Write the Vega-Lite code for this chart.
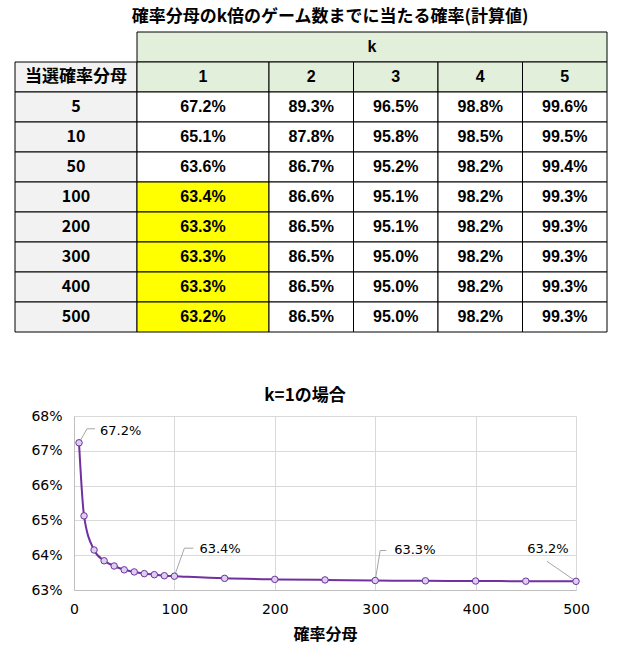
{
  "$schema": "https://vega.github.io/schema/vega-lite/v6.json",
  "padding": {"left": 14, "top": 7, "right": 5, "bottom": 5},
  "config": {
    "view": {"stroke": null},
    "font": "Noto Sans CJK JP",
    "text": {"color": "black"}
  },
  "title": {
    "text": "確率分母のk倍のゲーム数までに当たる確率(計算値)",
    "fontSize": 17,
    "fontWeight": "bold",
    "color": "black",
    "anchor": "middle",
    "dx": 19,
    "offset": 6
  },
  "datasets": {
    "left": [
      {"row": "hdr", "label": "当選確率分母"},
      {"row": "5", "label": "5"},
      {"row": "10", "label": "10"},
      {"row": "50", "label": "50"},
      {"row": "100", "label": "100"},
      {"row": "200", "label": "200"},
      {"row": "300", "label": "300"},
      {"row": "400", "label": "400"},
      {"row": "500", "label": "500"}
    ],
    "ks": [
      {"row": "hdr", "k": 1},
      {"row": "hdr", "k": 2},
      {"row": "hdr", "k": 3},
      {"row": "hdr", "k": 4},
      {"row": "hdr", "k": 5}
    ],
    "cells": [
      {"row": "5", "k": 1, "p": 0.672}, {"row": "5", "k": 2, "p": 0.893}, {"row": "5", "k": 3, "p": 0.965}, {"row": "5", "k": 4, "p": 0.988}, {"row": "5", "k": 5, "p": 0.996},
      {"row": "10", "k": 1, "p": 0.651}, {"row": "10", "k": 2, "p": 0.878}, {"row": "10", "k": 3, "p": 0.958}, {"row": "10", "k": 4, "p": 0.985}, {"row": "10", "k": 5, "p": 0.995},
      {"row": "50", "k": 1, "p": 0.636}, {"row": "50", "k": 2, "p": 0.867}, {"row": "50", "k": 3, "p": 0.952}, {"row": "50", "k": 4, "p": 0.982}, {"row": "50", "k": 5, "p": 0.994},
      {"row": "100", "k": 1, "p": 0.634}, {"row": "100", "k": 2, "p": 0.866}, {"row": "100", "k": 3, "p": 0.951}, {"row": "100", "k": 4, "p": 0.982}, {"row": "100", "k": 5, "p": 0.993},
      {"row": "200", "k": 1, "p": 0.633}, {"row": "200", "k": 2, "p": 0.865}, {"row": "200", "k": 3, "p": 0.951}, {"row": "200", "k": 4, "p": 0.982}, {"row": "200", "k": 5, "p": 0.993},
      {"row": "300", "k": 1, "p": 0.633}, {"row": "300", "k": 2, "p": 0.865}, {"row": "300", "k": 3, "p": 0.950}, {"row": "300", "k": 4, "p": 0.982}, {"row": "300", "k": 5, "p": 0.993},
      {"row": "400", "k": 1, "p": 0.633}, {"row": "400", "k": 2, "p": 0.865}, {"row": "400", "k": 3, "p": 0.950}, {"row": "400", "k": 4, "p": 0.982}, {"row": "400", "k": 5, "p": 0.993},
      {"row": "500", "k": 1, "p": 0.632}, {"row": "500", "k": 2, "p": 0.865}, {"row": "500", "k": 3, "p": 0.950}, {"row": "500", "k": 4, "p": 0.982}, {"row": "500", "k": 5, "p": 0.993}
    ],
    "series": [
      {"n": 5, "p": 0.6723}, {"n": 10, "p": 0.6513}, {"n": 20, "p": 0.6415},
      {"n": 30, "p": 0.6384}, {"n": 40, "p": 0.6369}, {"n": 50, "p": 0.6358},
      {"n": 60, "p": 0.6352}, {"n": 70, "p": 0.6347}, {"n": 80, "p": 0.6344},
      {"n": 90, "p": 0.6341}, {"n": 100, "p": 0.63397}, {"n": 150, "p": 0.63335},
      {"n": 200, "p": 0.63305}, {"n": 250, "p": 0.6329}, {"n": 300, "p": 0.63273},
      {"n": 350, "p": 0.63265}, {"n": 400, "p": 0.63258}, {"n": 450, "p": 0.63253},
      {"n": 500, "p": 0.63249}
    ]
  },
  "spacing": 54,
  "vconcat": [
    {
      "spacing": 0,
      "bounds": "flush",
      "hconcat": [
        {
          "width": 122,
          "height": 300,
          "data": {"name": "left"},
          "encoding": {
            "x": {"datum": "denom", "type": "nominal", "scale": {"paddingInner": 0, "paddingOuter": 0}, "axis": null},
            "y": {
              "field": "row",
              "type": "ordinal",
              "scale": {"domain": ["k", "hdr", "5", "10", "50", "100", "200", "300", "400", "500"], "paddingInner": 0, "paddingOuter": 0},
              "axis": null
            }
          },
          "layer": [
            {"mark": {"type": "rect", "fill": "#F2F2F2", "stroke": "black", "strokeWidth": 1}},
            {
              "mark": {"type": "text", "fontWeight": "bold"},
              "encoding": {
                "text": {"field": "label"},
                "font": {"condition": {"test": "datum.row == 'hdr'", "value": "Noto Sans CJK JP"}, "value": "Liberation Sans"},
                "size": {"condition": {"test": "datum.row == 'hdr'", "value": 17}, "value": 16}
              }
            }
          ]
        },
        {
          "spacing": 0,
          "bounds": "flush",
          "vconcat": [
            {
              "width": 470,
              "height": 30,
              "data": {"values": [{"label": "k"}]},
              "encoding": {
                "x": {"field": "label", "type": "nominal", "scale": {"paddingInner": 0, "paddingOuter": 0}, "axis": null},
                "y": {"field": "label", "type": "nominal", "scale": {"paddingInner": 0, "paddingOuter": 0}, "axis": null}
              },
              "layer": [
                {"mark": {"type": "rect", "fill": "#E2EFDA", "stroke": "black", "strokeWidth": 1}},
                {"mark": {"type": "text", "fontWeight": "bold", "fontSize": 16, "font": "Liberation Sans"}, "encoding": {"text": {"field": "label"}}}
              ]
            },
            {
              "spacing": 0,
              "bounds": "flush",
              "hconcat": [
                {
                  "width": 132,
                  "height": 270,
                  "encoding": {
                    "x": {"field": "k", "type": "ordinal", "scale": {"paddingInner": 0, "paddingOuter": 0}, "axis": null},
                    "y": {
                      "field": "row",
                      "type": "ordinal",
                      "scale": {"domain": ["hdr", "5", "10", "50", "100", "200", "300", "400", "500"], "paddingInner": 0, "paddingOuter": 0},
                      "axis": null
                    }
                  },
                  "layer": [
                    {
                      "data": {"name": "ks"},
                      "transform": [{"filter": "datum.k == 1"}],
                      "mark": {"type": "rect", "fill": "#E2EFDA", "stroke": "black", "strokeWidth": 1}
                    },
                    {
                      "data": {"name": "ks"},
                      "transform": [{"filter": "datum.k == 1"}],
                      "mark": {"type": "text", "fontWeight": "bold", "fontSize": 16, "font": "Liberation Sans"},
                      "encoding": {"text": {"field": "k", "type": "ordinal"}}
                    },
                    {
                      "data": {"name": "cells"},
                      "transform": [{"filter": "datum.k == 1"}],
                      "mark": {"type": "rect", "stroke": "black", "strokeWidth": 1},
                      "encoding": {
                        "fill": {"condition": {"test": "toNumber(datum.row) >= 100", "value": "#FFFF00"}, "value": "white"}
                      }
                    },
                    {
                      "data": {"name": "cells"},
                      "transform": [{"filter": "datum.k == 1"}],
                      "mark": {"type": "text", "fontWeight": "bold", "fontSize": 16, "font": "Liberation Sans"},
                      "encoding": {"text": {"field": "p", "type": "quantitative", "format": ".1%"}}
                    }
                  ]
                },
                {
                  "width": 338,
                  "height": 270,
                  "encoding": {
                    "x": {"field": "k", "type": "ordinal", "scale": {"paddingInner": 0, "paddingOuter": 0}, "axis": null},
                    "y": {
                      "field": "row",
                      "type": "ordinal",
                      "scale": {"domain": ["hdr", "5", "10", "50", "100", "200", "300", "400", "500"], "paddingInner": 0, "paddingOuter": 0},
                      "axis": null
                    }
                  },
                  "layer": [
                    {
                      "data": {"name": "ks"},
                      "transform": [{"filter": "datum.k > 1"}],
                      "mark": {"type": "rect", "fill": "#E2EFDA", "stroke": "black", "strokeWidth": 1}
                    },
                    {
                      "data": {"name": "ks"},
                      "transform": [{"filter": "datum.k > 1"}],
                      "mark": {"type": "text", "fontWeight": "bold", "fontSize": 16, "font": "Liberation Sans"},
                      "encoding": {"text": {"field": "k", "type": "ordinal"}}
                    },
                    {
                      "data": {"name": "cells"},
                      "transform": [{"filter": "datum.k > 1"}],
                      "mark": {"type": "rect", "fill": "white", "stroke": "black", "strokeWidth": 1}
                    },
                    {
                      "data": {"name": "cells"},
                      "transform": [{"filter": "datum.k > 1"}],
                      "mark": {"type": "text", "fontWeight": "bold", "fontSize": 16, "font": "Liberation Sans"},
                      "encoding": {"text": {"field": "p", "type": "quantitative", "format": ".1%"}}
                    }
                  ]
                }
              ]
            }
          ]
        }
      ]
    },
    {
      "spacing": 0,
      "bounds": "flush",
      "hconcat": [
        {
          "width": 59,
          "height": 174,
          "data": {"values": [{}]},
          "mark": {"type": "text", "text": ""},
          "encoding": {}
        },
        {
          "width": 502,
          "height": 174,
          "title": {
            "text": "k=1の場合",
            "fontSize": 17,
            "fontWeight": "bold",
            "color": "black",
            "anchor": "middle",
            "dx": -20,
            "offset": 4
          },
          "data": {"name": "series"},
          "encoding": {
            "x": {
              "field": "n",
              "type": "quantitative",
              "scale": {"domain": [0, 500], "nice": false},
              "axis": {
                "values": [0, 100, 200, 300, 400, 500],
                "title": "確率分母",
                "labelFont": "DejaVu Sans",
                "labelFontSize": 14,
                "labelColor": "black",
                "labelPadding": 12,
                "labelFlush": false,
                "ticks": false,
                "domainColor": "#BFBFBF",
                "gridColor": "#D9D9D9",
                "titleFontSize": 16,
                "titleFontWeight": "bold",
                "titleColor": "black",
                "titlePadding": 10
              }
            },
            "y": {
              "field": "p",
              "type": "quantitative",
              "scale": {"domain": [0.63, 0.68], "zero": false, "nice": false},
              "axis": {
                "values": [0.63, 0.64, 0.65, 0.66, 0.67, 0.68],
                "format": ".0%",
                "title": null,
                "labelFont": "DejaVu Sans",
                "labelFontSize": 14,
                "labelColor": "black",
                "labelPadding": 12,
                "ticks": false,
                "domainColor": "#BFBFBF",
                "gridColor": "#D9D9D9"
              }
            }
          },
          "layer": [
            {"mark": {"type": "line", "color": "#7030A0", "strokeWidth": 2, "interpolate": "monotone"}},
            {
              "transform": [{"filter": "datum.n == 5"}],
              "mark": {"type": "rule", "color": "#A6A6A6", "strokeWidth": 1, "x2Offset": 8, "y2Offset": -14},
              "encoding": {"x2": {"field": "n"}, "y2": {"field": "p"}}
            },
            {
              "transform": [{"filter": "datum.n == 5"}],
              "mark": {"type": "rule", "color": "#A6A6A6", "strokeWidth": 1, "xOffset": 8, "yOffset": -14, "x2Offset": 16, "y2Offset": -14},
              "encoding": {"x2": {"field": "n"}, "y2": {"field": "p"}}
            },
            {
              "transform": [{"filter": "datum.n == 100"}],
              "mark": {"type": "rule", "color": "#A6A6A6", "strokeWidth": 1, "x2Offset": 10, "y2Offset": -28},
              "encoding": {"x2": {"field": "n"}, "y2": {"field": "p"}}
            },
            {
              "transform": [{"filter": "datum.n == 100"}],
              "mark": {"type": "rule", "color": "#A6A6A6", "strokeWidth": 1, "xOffset": 10, "yOffset": -28, "x2Offset": 19, "y2Offset": -28},
              "encoding": {"x2": {"field": "n"}, "y2": {"field": "p"}}
            },
            {
              "transform": [{"filter": "datum.n == 300"}],
              "mark": {"type": "rule", "color": "#A6A6A6", "strokeWidth": 1, "x2Offset": 5, "y2Offset": -30},
              "encoding": {"x2": {"field": "n"}, "y2": {"field": "p"}}
            },
            {
              "transform": [{"filter": "datum.n == 300"}],
              "mark": {"type": "rule", "color": "#A6A6A6", "strokeWidth": 1, "xOffset": 5, "yOffset": -30, "x2Offset": 11, "y2Offset": -30},
              "encoding": {"x2": {"field": "n"}, "y2": {"field": "p"}}
            },
            {
              "transform": [{"filter": "datum.n == 500"}],
              "mark": {"type": "rule", "color": "#A6A6A6", "strokeWidth": 1, "x2Offset": -29, "y2Offset": -20},
              "encoding": {"x2": {"field": "n"}, "y2": {"field": "p"}}
            },
            {
              "mark": {"type": "point", "filled": true, "fill": "#DCD0F0", "stroke": "#7030A0", "strokeWidth": 1, "size": 42, "opacity": 1}
            },
            {
              "transform": [{"filter": "datum.n == 5"}],
              "mark": {"type": "text", "align": "left", "dx": 21, "dy": -12, "fontSize": 13, "font": "DejaVu Sans"},
              "encoding": {"text": {"field": "p", "type": "quantitative", "format": ".1%"}}
            },
            {
              "transform": [{"filter": "datum.n == 100"}],
              "mark": {"type": "text", "align": "left", "dx": 25, "dy": -27, "fontSize": 13, "font": "DejaVu Sans"},
              "encoding": {"text": {"field": "p", "type": "quantitative", "format": ".1%"}}
            },
            {
              "transform": [{"filter": "datum.n == 300"}],
              "mark": {"type": "text", "align": "left", "dx": 19, "dy": -30, "fontSize": 13, "font": "DejaVu Sans"},
              "encoding": {"text": {"field": "p", "type": "quantitative", "format": ".1%"}}
            },
            {
              "transform": [{"filter": "datum.n == 500"}],
              "mark": {"type": "text", "align": "center", "dx": -28, "dy": -32, "fontSize": 13, "font": "DejaVu Sans"},
              "encoding": {"text": {"field": "p", "type": "quantitative", "format": ".1%"}}
            }
          ]
        }
      ]
    }
  ]
}
